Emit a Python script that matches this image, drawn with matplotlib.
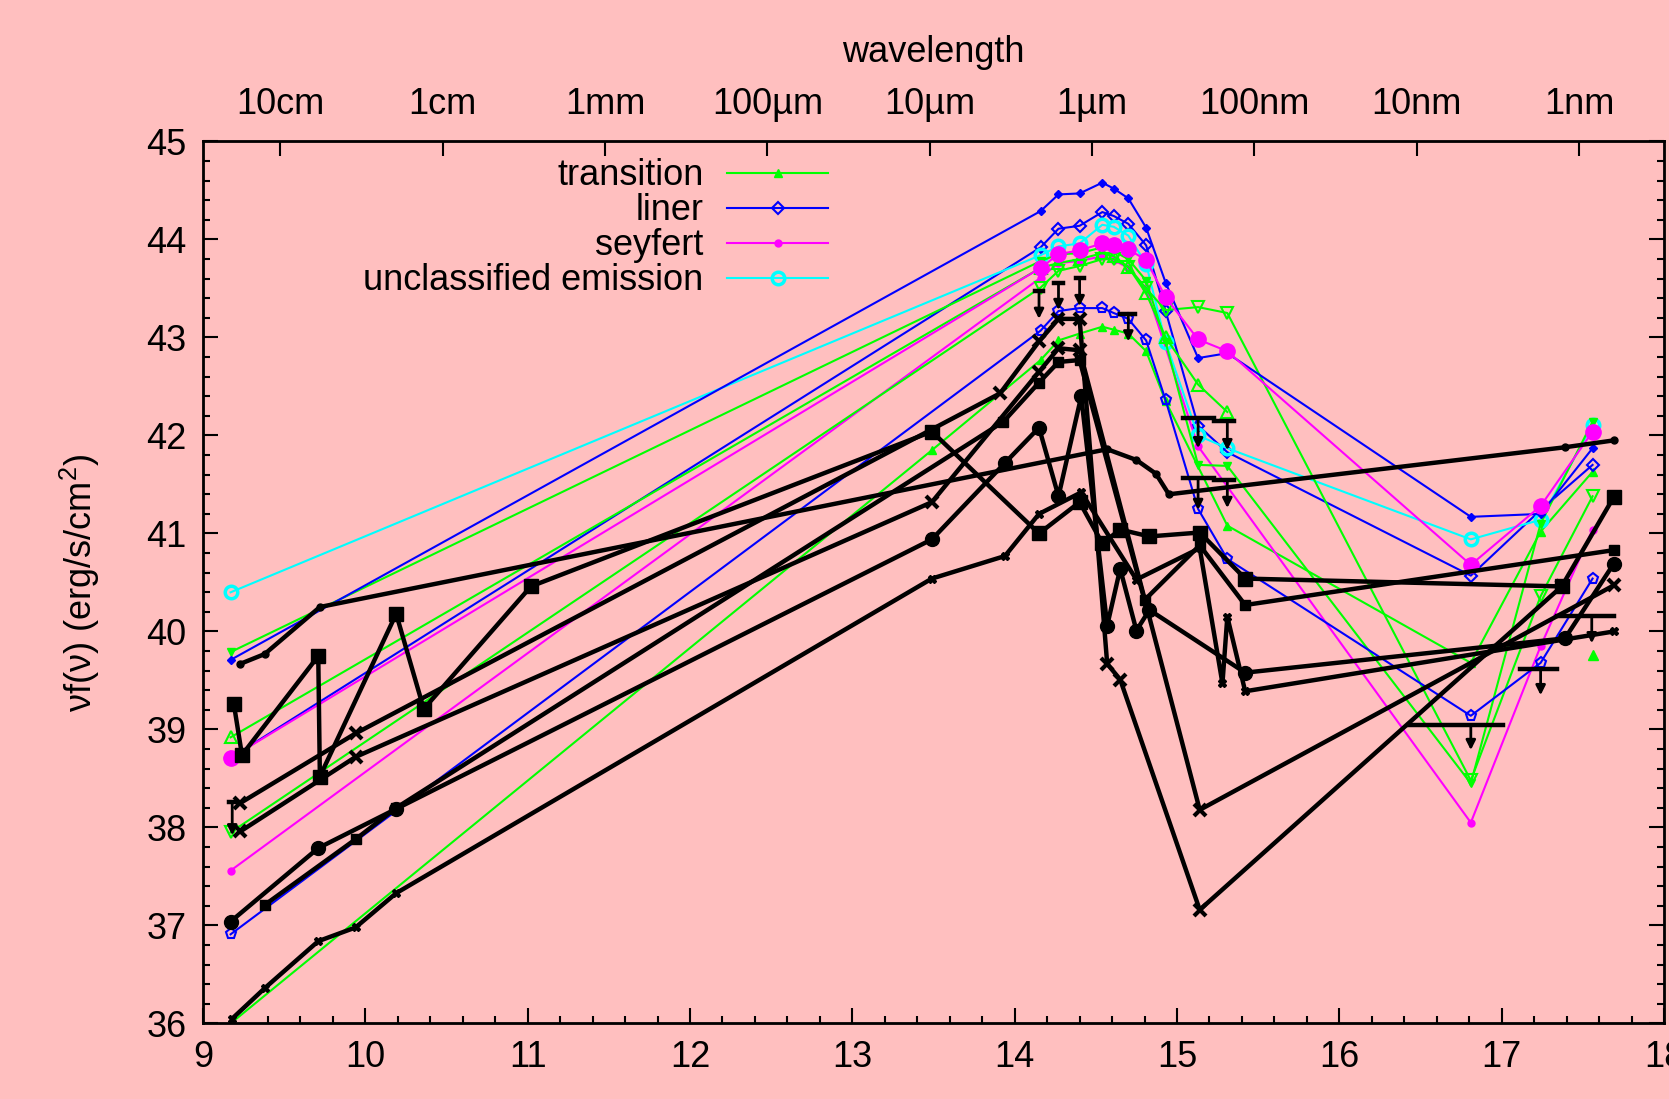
import numpy as np
import matplotlib
matplotlib.use('Agg')
import matplotlib.pyplot as plt
from matplotlib.ticker import MultipleLocator

plt.rcParams['font.family'] = ['Liberation Sans', 'DejaVu Sans']
plt.rcParams['mathtext.fontset'] = 'custom'
plt.rcParams['mathtext.rm'] = 'Liberation Sans'

BG = '#ffbfbf'

# ---- colored classes (log nu, log nu f_nu) ----
grid14 = [9.17, 14.16, 14.27, 14.40, 14.54, 14.61, 14.70, 14.81, 14.93, 15.13, 15.31, 16.81, 17.24, 17.56]

uncl_x = grid14
uncl_y = [40.40, 43.84, 43.93, 43.96, 44.15, 44.13, 44.04, 43.75, 42.95, 42.00, 41.87, 40.94, 41.14, 42.11]

liner1_x = grid14
liner1_y = [39.71, 44.29, 44.46, 44.47, 44.58, 44.52, 44.42, 44.12, 43.56, 42.79, 42.84, 41.17, 41.20, 41.87]
liner2_x = grid14
liner2_y = [38.71, 43.92, 44.11, 44.14, 44.28, 44.24, 44.16, 43.94, 43.27, 42.10, 41.83, 40.57, 41.24, 41.70]
liner3_x = grid14
liner3_y = [36.91, 43.07, 43.27, 43.30, 43.30, 43.25, 43.19, 42.97, 42.36, 41.25, 40.74, 39.14, 39.68, 40.54]

sey1_x = grid14
sey1_y = [38.71, 43.71, 43.85, 43.89, 43.96, 43.94, 43.90, 43.79, 43.41, 42.98, 42.86, 40.68, 41.28, 42.04]
sey2_x = [9.17, 14.16, 14.27, 14.40, 14.54, 14.61, 14.70, 14.81, 15.13, 16.81, 17.24, 17.56]
sey2_y = [37.56, 43.61, 43.76, 43.78, 43.83, 43.79, 43.71, 43.50, 41.89, 38.05, 39.85, 41.04]

trans1_x = [9.17, 13.49, 14.16, 14.27, 14.40, 14.54, 14.61, 14.70, 14.81, 14.93, 15.31, 16.81, 17.24, 17.56]
trans1_y = [36.00, 41.85, 42.77, 42.97, 43.04, 43.11, 43.08, 43.04, 42.86, 42.35, 41.08, 39.68, 41.02, 41.63]
trans2_x = grid14
trans2_y = [37.95, 43.51, 43.68, 43.73, 43.80, 43.80, 43.72, 43.50, 43.28, 43.31, 43.25, 38.48, 40.36, 41.38]
trans3_x = grid14[:11]
trans3_y = [38.92, 43.71, 43.76, 43.80, 43.86, 43.83, 43.72, 43.45, 43.00, 42.52, 42.24]
trans3b_x = [17.56]
trans3b_y = [39.76]
trans4_x = grid14
trans4_y = [39.79, 43.78, 43.85, 43.86, 43.92, 43.88, 43.80, 43.58, 42.95, 41.70, 41.69, 38.45, 41.10, 42.14]

# ---- black (individual objects) ----
k1_x = [9.23, 9.38, 9.72, 14.57, 14.75, 14.87, 14.95, 17.39, 17.69]
k1_y = [39.67, 39.77, 40.25, 41.86, 41.75, 41.61, 41.40, 41.88, 41.95]
k2_x = [9.19, 9.24, 9.71, 9.72, 10.19, 10.36, 11.02, 13.49, 14.15, 14.40, 14.54, 14.65, 14.83, 15.14, 15.42, 17.37, 17.69]
k2_y = [39.26, 38.74, 39.75, 38.52, 40.18, 39.21, 40.46, 42.04, 41.00, 41.32, 40.90, 41.04, 40.97, 41.01, 40.54, 40.46, 41.37]
k3_x = [9.38, 9.94, 10.19, 13.93, 14.15, 14.27, 14.40, 14.80, 15.14, 15.42, 17.69]
k3_y = [37.21, 37.88, 38.20, 42.14, 42.54, 42.75, 42.77, 40.32, 40.88, 40.27, 40.83]
k4_x = [9.23, 9.94, 13.91, 14.15, 14.27, 14.40, 14.57, 14.65, 15.14, 17.37]
k4_y = [38.25, 38.96, 42.43, 42.96, 43.19, 43.19, 39.67, 39.51, 37.16, 40.46]
k5_x = [9.23, 9.94, 13.49, 14.15, 14.27, 14.40, 15.14, 17.69]
k5_y = [37.96, 38.72, 41.32, 42.65, 42.89, 42.87, 38.18, 40.47]
k6_x = [9.17, 9.71, 10.19, 13.49, 13.94, 14.15, 14.27, 14.41, 14.57, 14.65, 14.75, 14.83, 15.42, 17.39, 17.69]
k6_y = [37.04, 37.79, 38.19, 40.94, 41.72, 42.08, 41.38, 42.40, 40.06, 40.64, 40.01, 40.22, 39.58, 39.93, 40.69]
k7_x = [9.18, 9.38, 9.71, 9.94, 10.19, 13.49, 13.94, 14.15, 14.41, 14.75, 15.14, 15.28, 15.31, 15.42, 17.69]
k7_y = [36.05, 36.36, 36.84, 36.98, 37.33, 40.54, 40.77, 41.20, 41.42, 40.53, 40.85, 39.47, 40.15, 39.39, 40.00]

# upper limits: x, x_lo, x_hi, y_bar, y_tip
lim_x = [9.18, 14.15, 14.27, 14.40, 14.70, 15.13, 15.31, 15.13, 15.31, 16.81, 17.24, 17.555]
lim_lo = [9.16, 14.125, 14.245, 14.375, 14.65, 15.04, 15.23, 15.04, 15.23, 16.43, 17.11, 17.34]
lim_hi = [9.20, 14.175, 14.295, 14.425, 14.74, 15.23, 15.35, 15.23, 15.35, 17.01, 17.34, 17.69]
lim_top = [38.26, 43.47, 43.56, 43.61, 43.24, 42.18, 42.15, 41.57, 41.55, 39.05, 39.62, 40.16]
lim_tip = [37.92, 43.19, 43.28, 43.32, 42.96, 41.87, 41.85, 41.24, 41.26, 38.79, 39.35, 39.88]

wl_labels = ['10cm', '1cm', '1mm', '100\u00b5m', '10\u00b5m', '1\u00b5m', '100nm', '10nm', '1nm']
wl_metres = [1e-1, 1e-2, 1e-3, 1e-4, 1e-5, 1e-6, 1e-7, 1e-8, 1e-9]

fig = plt.figure(figsize=(16.69, 10.99), dpi=100, facecolor=BG)
ax = fig.add_axes([0.12163, 0.0687, 0.87537, 0.80255])
ax.set_facecolor(BG)

G, B, M, C = '#00ff00', '#0000ff', '#ff00ff', '#00ffff'
lw_c = 1.5

ax.plot(trans1_x, trans1_y, '-', color=G, lw=lw_c, marker='^', ms=6, label='transition')
ax.plot(liner2_x, liner2_y, '-', color=B, lw=lw_c, marker='D', ms=6, mfc='none', mew=1.5, label='liner')
ax.plot(sey2_x, sey2_y, '-', color=M, lw=lw_c, marker='o', ms=5, label='seyfert')
ax.plot(uncl_x, uncl_y, '-', color=C, lw=lw_c, marker='o', ms=9, mfc='none', mew=2.5, label='unclassified emission')

ax.plot(trans2_x, trans2_y, '-', color=G, lw=lw_c, marker='v', ms=9, mfc='none', mew=1.5)
ax.plot(trans3_x, trans3_y, '-', color=G, lw=lw_c, marker='^', ms=9, mfc='none', mew=1.5)
ax.plot(trans3b_x, trans3b_y, ls='none', color=G, marker='^', ms=7)
ax.plot(trans4_x, trans4_y, '-', color=G, lw=lw_c, marker='v', ms=6)
ax.plot(liner1_x, liner1_y, '-', color=B, lw=lw_c, marker='D', ms=4)
ax.plot(liner3_x, liner3_y, '-', color=B, lw=lw_c, marker='p', ms=8, mfc='none', mew=1.5)
ax.plot(sey1_x, sey1_y, '-', color=M, lw=lw_c, marker='o', ms=11)

lw_k = 3.2
ax.plot(k1_x, k1_y, 'k-', lw=lw_k, marker='o', ms=5)
ax.plot(k2_x, k2_y, 'k-', lw=lw_k, marker='s', ms=10)
ax.plot(k3_x, k3_y, 'k-', lw=lw_k, marker='s', ms=7)
ax.plot(k4_x, k4_y, 'k-', lw=lw_k, marker='x', ms=9, mew=3)
ax.plot(k5_x, k5_y, 'k-', lw=lw_k, marker='x', ms=9, mew=3)
ax.plot(k6_x, k6_y, 'k-', lw=lw_k, marker='o', ms=10)
ax.plot(k7_x, k7_y, 'k-', lw=lw_k, marker='X', ms=6)

for x, lo, hi, top, tip in zip(lim_x, lim_lo, lim_hi, lim_top, lim_tip):
    ax.plot([lo, hi], [top, top], 'k-', lw=3.2)
    ax.annotate('', xy=(x, tip), xytext=(x, top),
                arrowprops=dict(arrowstyle='-|>', color='k', lw=2, mutation_scale=14,
                                shrinkA=0, shrinkB=0))

ax.set_xlim(9, 18)
ax.set_ylim(36, 45)
ax.set_xticks(range(9, 19))
ax.set_yticks(range(36, 46))
ax.xaxis.set_minor_locator(MultipleLocator(0.2))
ax.yaxis.set_minor_locator(MultipleLocator(0.2))
ax.tick_params(which='both', direction='in', top=True, right=True, width=1.5, labelsize=26)
ax.tick_params(which='major', length=11)
ax.tick_params(which='minor', length=5)
ax.tick_params(axis='x', pad=12)
ax.tick_params(axis='y', pad=12)
for s in ax.spines.values():
    s.set_linewidth(2)
ax.set_ylabel('\u03bdf(\u03bd) (erg/s/cm$^2$)', fontsize=26, labelpad=32)

ax2 = ax.twiny()
ax2.set_xlim(9, 18)
ax2.set_xticks(np.log10(2.998e8 / np.array(wl_metres)))
ax2.set_xticklabels(wl_labels)
ax2.tick_params(direction='in', length=11, width=1.5, labelsize=26, pad=14)
ax2.set_xlabel('wavelength', fontsize=26, labelpad=18)

ax.legend(loc='upper right', bbox_to_anchor=(0.428, 0.981), frameon=False, markerfirst=False,
          fontsize=26, handlelength=2.8, handletextpad=0.65, labelspacing=0.0,
          borderpad=0, borderaxespad=0)

fig.savefig('out.png', dpi=100, facecolor=BG)
